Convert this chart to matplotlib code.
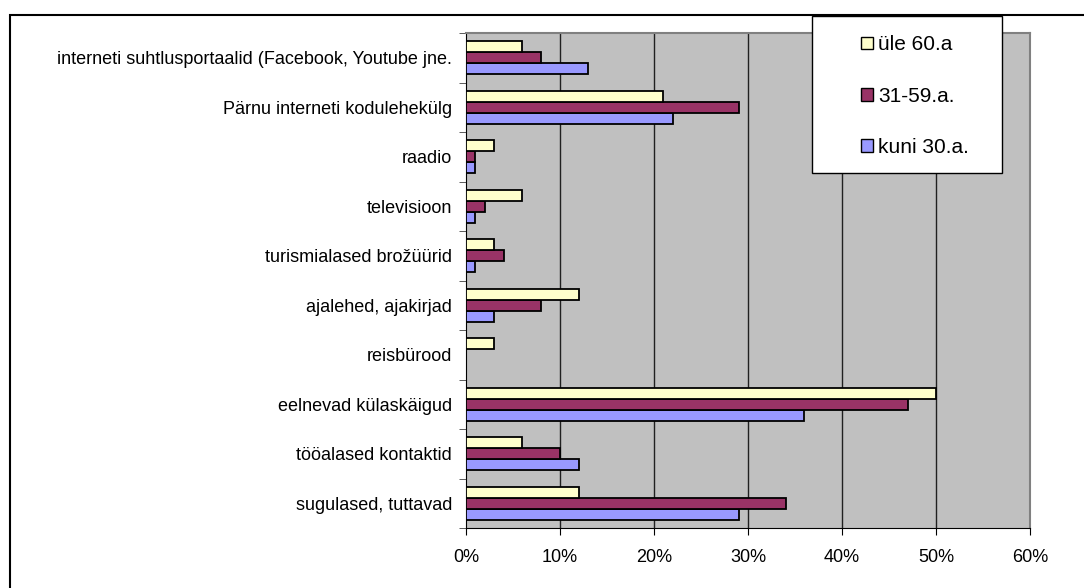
import numpy as np
import matplotlib.pyplot as plt
from matplotlib.patches import Rectangle, Patch

plt.rcParams['font.family'] = ['Liberation Sans', 'DejaVu Sans']

# kategooriad alt ules
categories = ['sugulased, tuttavad', 'tööalased kontaktid', 'eelnevad külaskäigud',
              'reisbürood', 'ajalehed, ajakirjad', 'turismialased brožüürid',
              'televisioon', 'raadio', 'Pärnu interneti kodulehekülg',
              'interneti suhtlusportaalid (Facebook, Youtube jne.']

# vaartused protsentides
kuni_30 = [29, 12, 36, 0, 3, 1, 1, 1, 22, 13]
vanus_31_59 = [34, 10, 47, 0, 8, 4, 2, 1, 29, 8]
ule_60 = [12, 6, 50, 3, 12, 3, 6, 3, 21, 6]

series_names = ['kuni 30.a.', '31-59.a.', 'üle 60.a']
colors = ['#9999FF', '#993366', '#FFFFCC']
x_ticks = [0, 10, 20, 30, 40, 50, 60]

W, H = 1084, 588
fig = plt.figure(figsize=(W / 100, H / 100), dpi=100)
ax = fig.add_axes([466 / W, 1 - 528 / H, (1030 - 466) / W, (528 - 33) / H])

y = np.arange(len(categories))
h = 0.222
for k, (vals, col) in enumerate(zip([kuni_30, vanus_31_59, ule_60], colors)):
    ax.barh(y + (k - 1) * h, vals, height=h, color=col, edgecolor='black',
            linewidth=1.3, zorder=3)

ax.set_facecolor('#C0C0C0')
ax.set_xlim(0, 60)
ax.set_ylim(-0.5, len(categories) - 0.5)
ax.set_xticks(x_ticks)
ax.set_xticklabels([f'{t}%' for t in x_ticks], fontsize=13)
ax.set_yticks(y)
ax.set_yticklabels(categories, fontsize=13)
ax.tick_params(axis='y', length=0, pad=10)
ax.set_yticks(np.arange(len(categories) + 1) - 0.5, minor=True)
ax.tick_params(axis='y', which='minor', length=5, direction='out', color='#404040')
ax.tick_params(axis='x', length=5, direction='out', pad=10)

for t in x_ticks[1:-1]:
    ax.axvline(t, color='#202020', linewidth=1, zorder=1)

ax.spines['top'].set_color('#808080')
ax.spines['right'].set_color('#808080')
ax.spines['top'].set_linewidth(1.5)
ax.spines['right'].set_linewidth(1.5)
ax.spines['left'].set_color('black')
ax.spines['bottom'].set_color('black')

# valimine raam (paremal ja all ara loigatud)
fig.patches.append(Rectangle((10 / W, -0.1), 1.2, 1.1 - 15 / H, transform=fig.transFigure,
                             fill=False, edgecolor='black', linewidth=1.5, zorder=0))

# legend
fig.patches.append(Rectangle((812 / W, 1 - 173 / H), (1002 - 812) / W, (173 - 16) / H,
                             transform=fig.transFigure, facecolor='white',
                             edgecolor='black', linewidth=1, zorder=5))
handles = [Patch(facecolor=colors[k], edgecolor='black', label=series_names[k]) for k in [2, 1, 0]]
leg = fig.legend(handles=handles, loc='upper left', bbox_to_anchor=(851 / W, 1 - 25 / H),
                 frameon=False, fontsize=15, handlelength=0.55, handleheight=0.55,
                 handletextpad=0.25, labelspacing=1.55, borderpad=0)
leg.set_zorder(6)

fig.savefig('out.png', dpi=100)
